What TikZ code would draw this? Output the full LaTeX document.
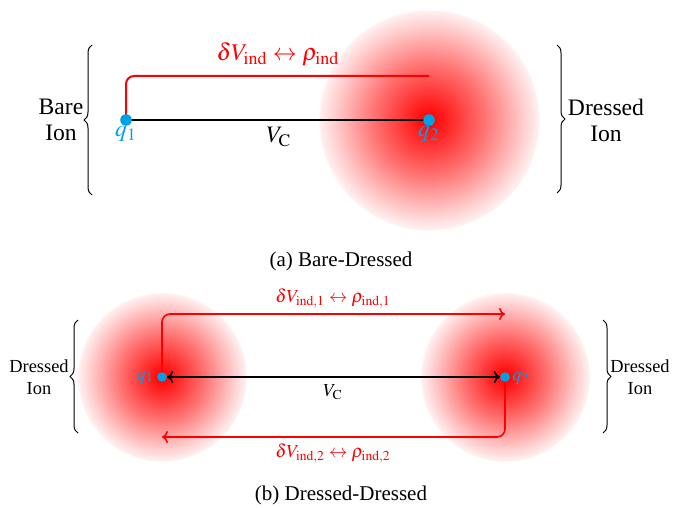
\documentclass[tikz,border=0pt]{standalone}
\usepackage{mathptmx}
\usepackage{fontspec}
\setmainfont{Liberation Serif}
\usetikzlibrary{decorations.pathreplacing,arrows.meta}
\definecolor{qblue}{RGB}{0,160,226}
\pgfdeclareradialshading{glow}{\pgfpoint{0bp}{0bp}}{color(0bp)=(red);color(1.5bp)=(red!96);color(12.5bp)=(red!55);color(22bp)=(red!16);color(24.6bp)=(red!6);color(25bp)=(white);color(50bp)=(white)}
\tikzset{
  dot/.style={circle,fill=qblue,inner sep=0pt,minimum size=5.8pt},
  smalldot/.style={dot,minimum size=4.8pt},
  qlab/.style={text=qblue},
  bigtxt/.style={font=\fontsize{11.8}{13}\selectfont},
  smalltxt/.style={font=\fontsize{9.2}{11}\selectfont},
  captxt/.style={font=\fontsize{10.5}{12}\selectfont},
  bracestyle/.style={decorate,decoration={brace,amplitude=4pt},line width=0.5pt},
  redline/.style={red,line width=1pt,rounded corners=4pt},
  redarrow/.style={red,line width=0.8pt,rounded corners=4pt,-{To[length=3pt,width=6pt]}},
  blackline/.style={black,line width=1pt},
}
\begin{document}
\begin{tikzpicture}[x=0.5pt,y=-0.5pt]
\useasboundingbox (0,0) rectangle (685,508);
% ---------- panel (a)
\coordinate (a1) at (126,120);
\coordinate (a2) at (429,120);
\coordinate (aend) at (429,76);
\shade[shading=glow] (a2) circle (111);
\draw[redline] (a1) |- (aend);
\draw[blackline] (a1) -- (a2);
\node[dot] (q1a) at (a1) {};
\node[dot] (q2a) at (a2) {};
\node[bigtxt,qlab] (lq1a) at (126,134) {$q_1$};
\node[bigtxt,qlab] (lq2a) at (429,134) {$q_2$};
\node[bigtxt] (vca) at (279,137) {$V_{\mathrm{C}}$};
\node[font=\fontsize{12}{14}\selectfont,red] (inda) at (278,54) {$\delta V_{\mathrm{ind}} \leftrightarrow \rho_{\mathrm{ind}}$};
\coordinate (bl1) at (92,195);
\coordinate (bl2) at (92,45);
\draw[bracestyle] (bl1) -- (bl2);
\coordinate (br1) at (557,45);
\coordinate (br2) at (557,193);
\draw[bracestyle] (br1) -- (br2);
\node[bigtxt,align=center] (bare) at (61,120) {Bare\\Ion};
\node[bigtxt,align=center] (dra) at (606,120) {Dressed\\Ion};
\node[captxt] (capa) at (341,261) {(a) Bare-Dressed};
% ---------- panel (b)
\coordinate (b1) at (162,377);
\coordinate (b2) at (505,377);
\coordinate (btop) at (505,314);
\coordinate (bbot) at (162,437);
\shade[shading=glow] (b1) circle (85);
\shade[shading=glow] (b2) circle (85);
\draw[redarrow] (b1) |- (btop);
\draw[redarrow] (b2) |- (bbot);
\node[smalldot] (q1b) at (b1) {};
\node[smalldot] (q2b) at (b2) {};
\draw[blackline,line width=0.8pt,{To[length=3pt,width=6pt]}-{To[length=3pt,width=6pt]}] (q1b) -- (q2b);
\node[smalltxt,qlab,anchor=east,inner sep=1pt] (lq1b) at (156,377) {$q_1$};
\node[smalltxt,qlab,anchor=west,inner sep=1pt] (lq2b) at (510,378) {$q_2$};
\node[smalltxt] (vcb) at (333,392) {$V_{\mathrm{C}}$};
\node[smalltxt,red] (ind1) at (333,298) {$\delta V_{\mathrm{ind},1} \leftrightarrow \rho_{\mathrm{ind},1}$};
\node[smalltxt,red] (ind2) at (333,453) {$\delta V_{\mathrm{ind},2} \leftrightarrow \rho_{\mathrm{ind},2}$};
\coordinate (cl1) at (78,433);
\coordinate (cl2) at (78,320);
\draw[bracestyle] (cl1) -- (cl2);
\coordinate (cr1) at (603,320);
\coordinate (cr2) at (603,433);
\draw[bracestyle] (cr1) -- (cr2);
\node[smalltxt,align=center] (drl) at (39,377) {Dressed\\Ion};
\node[smalltxt,align=center] (drr) at (640,377) {Dressed\\Ion};
\node[captxt] (capb) at (341,495) {(b) Dressed-Dressed};
\end{tikzpicture}
\end{document}
